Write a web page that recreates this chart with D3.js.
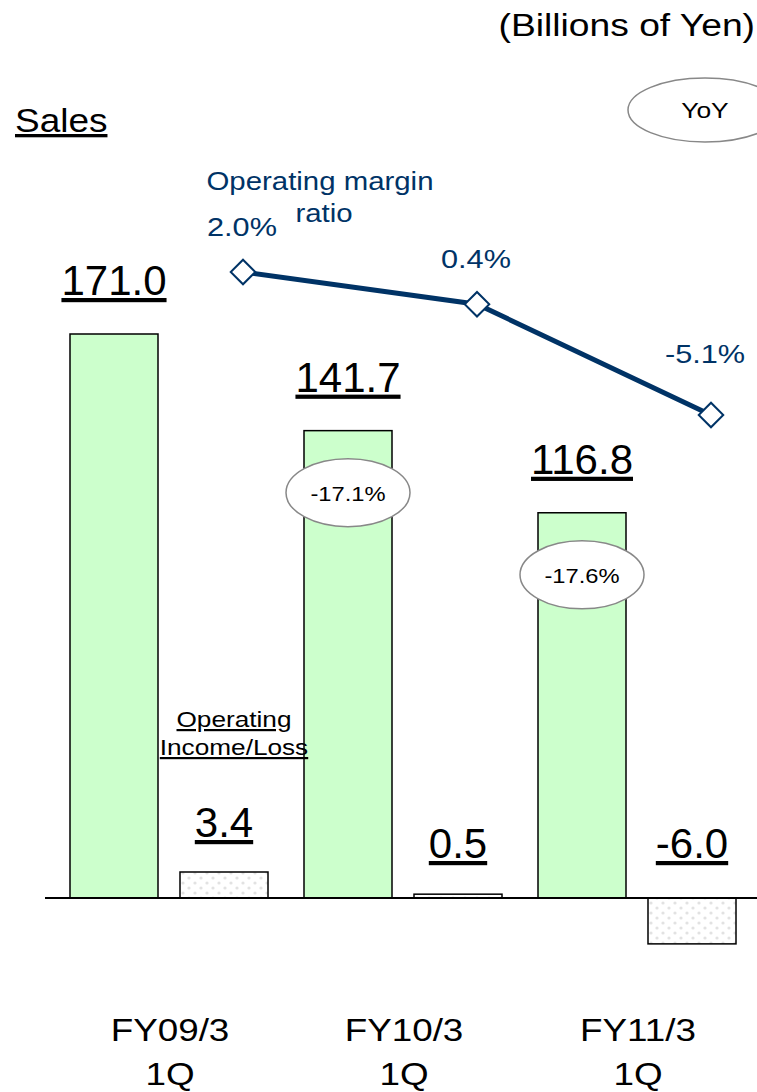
<!DOCTYPE html>
<html>
<head>
<meta charset="utf-8">
<script src="https://d3js.org/d3.v7.min.js"></script>
<style>
  body { margin: 0; background: #fff; }
  text { font-family: "Liberation Sans", Arial, sans-serif; }
</style>
</head>
<body>
<div id="chart"></div>
<script>
// data
const periods = ["FY09/3", "FY10/3", "FY11/3"];
const quarterLabel = "1Q";
const sales = [171.0, 141.7, 116.8];
const opIncome = [3.4, 0.5, -6.0];
const opMargin = [2.0, 0.4, -5.1];
const yoy = [null, "-17.1%", "-17.6%"];

const width = 757, height = 1092;
const baseY = 898;

const svg = d3.select("#chart").append("svg")
  .attr("width", width)
  .attr("height", height);

// the original text is a bit wider than Arial, so stretch it sideways
function stretch(sel, sx) {
  sel.each(function() {
    const len = this.getComputedTextLength();
    d3.select(this).attr("textLength", len * sx).attr("lengthAdjust", "spacingAndGlyphs");
  });
}

// dotted fill for the operating income bars
const defs = svg.append("defs");
const pat = defs.append("pattern")
  .attr("id", "dots")
  .attr("patternUnits", "userSpaceOnUse")
  .attr("width", 12).attr("height", 10);
pat.append("rect").attr("width", 12).attr("height", 10).attr("fill", "#fff");
pat.append("circle").attr("cx", 3).attr("cy", 3).attr("r", 1.6).attr("fill", "#e2e2e2");
pat.append("circle").attr("cx", 9).attr("cy", 8).attr("r", 1.6).attr("fill", "#e2e2e2");

// scales
const x = d3.scaleBand().domain(periods).range([53, 755]);
const sub = d3.scaleBand().domain(["sales", "oi"]).range([17, 215]).paddingInner(0.2);
const ySales = d3.scaleLinear().domain([0, 171]).range([baseY, 334]);
const yOI = d3.scaleLinear().domain([0, 3.4]).range([baseY, 872]);
const yMargin = d3.scaleLinear().domain([2.0, -5.1]).range([272, 415]);
const xMargin = i => x(periods[i]) + 190;

// sales bars
svg.selectAll(".sales").data(sales).enter().append("rect")
  .attr("class", "sales")
  .attr("x", (d, i) => x(periods[i]) + sub("sales"))
  .attr("width", sub.bandwidth())
  .attr("y", d => ySales(d))
  .attr("height", d => baseY - ySales(d))
  .attr("fill", "#ccffcc")
  .attr("stroke", "#000")
  .attr("stroke-width", 1.5);

// operating income bars
svg.selectAll(".oi").data(opIncome).enter().append("rect")
  .attr("class", "oi")
  .attr("x", (d, i) => x(periods[i]) + sub("oi"))
  .attr("width", sub.bandwidth())
  .attr("y", d => Math.min(yOI(d), baseY))
  .attr("height", d => Math.max(Math.abs(baseY - yOI(d)), 3))
  .attr("fill", "url(#dots)")
  .attr("stroke", "#000")
  .attr("stroke-width", 1.5);

// axis line
svg.append("line")
  .attr("x1", 45).attr("x2", width)
  .attr("y1", baseY).attr("y2", baseY)
  .attr("stroke", "#000").attr("stroke-width", 2);

// value labels
svg.selectAll(".salesLbl").data(sales).enter().append("text")
  .attr("x", (d, i) => x(periods[i]) + sub("sales") + sub.bandwidth() / 2)
  .attr("y", d => ySales(d) - 39)
  .attr("text-anchor", "middle")
  .attr("font-size", 42)
  .attr("text-decoration", "underline")
  .text(d => d.toFixed(1));

svg.selectAll(".oiLbl").data(opIncome).enter().append("text")
  .attr("x", (d, i) => x(periods[i]) + sub("oi") + sub.bandwidth() / 2)
  .attr("y", d => d >= 0 ? Math.min(yOI(d), baseY - 5) - 35 : baseY - 40)
  .attr("text-anchor", "middle")
  .attr("font-size", 42)
  .attr("text-decoration", "underline")
  .text(d => d.toFixed(1));

// operating margin line
const line = d3.line().x((d, i) => xMargin(i)).y(d => yMargin(d));
svg.append("path")
  .datum(opMargin)
  .attr("d", line)
  .attr("fill", "none")
  .attr("stroke", "#003366")
  .attr("stroke-width", 5);

svg.selectAll(".marker").data(opMargin).enter().append("path")
  .attr("d", d3.symbol().type(d3.symbolSquare).size(300))
  .attr("transform", (d, i) => `translate(${xMargin(i)},${yMargin(d)}) rotate(45)`)
  .attr("fill", "#fff")
  .attr("stroke", "#003366")
  .attr("stroke-width", 2);

svg.selectAll(".marginLbl").data(opMargin).enter().append("text")
  .attr("x", (d, i) => xMargin(i) - (i === opMargin.length - 1 ? 6 : 1))
  .attr("y", (d, i) => yMargin(d) - (i === opMargin.length - 1 ? 52 : 36))
  .attr("text-anchor", "middle")
  .attr("font-size", 26)
  .attr("fill", "#003366")
  .text(d => d.toFixed(1) + "%")
  .call(stretch, 1.18);

svg.append("text")
  .attr("x", 320).attr("y", 190)
  .attr("text-anchor", "middle")
  .attr("font-size", 26).attr("fill", "#003366")
  .text("Operating margin")
  .call(stretch, 1.13);
svg.append("text")
  .attr("x", 324).attr("y", 222)
  .attr("text-anchor", "middle")
  .attr("font-size", 26).attr("fill", "#003366")
  .text("ratio")
  .call(stretch, 1.13);

// YoY ellipses on the bars
const yoyData = yoy.map((v, i) => ({ v, i })).filter(d => d.v);
const yoyG = svg.selectAll(".yoy").data(yoyData).enter().append("g")
  .attr("transform", d => `translate(${x(periods[d.i]) + sub("sales") + sub.bandwidth() / 2},${ySales(sales[d.i]) + 62})`);
yoyG.append("ellipse")
  .attr("rx", 62).attr("ry", 34)
  .attr("fill", "#fff").attr("stroke", "#888").attr("stroke-width", 1.5);
yoyG.append("text")
  .attr("y", 8)
  .attr("text-anchor", "middle")
  .attr("font-size", 21)
  .text(d => d.v)
  .call(stretch, 1.13);

// YoY legend
svg.append("ellipse")
  .attr("cx", 705).attr("cy", 110).attr("rx", 77).attr("ry", 32)
  .attr("fill", "#fff").attr("stroke", "#888").attr("stroke-width", 1.5);
svg.append("text")
  .attr("x", 705).attr("y", 118)
  .attr("text-anchor", "middle").attr("font-size", 22)
  .text("YoY")
  .call(stretch, 1.2);

// titles
svg.append("text")
  .attr("x", 755).attr("y", 36)
  .attr("text-anchor", "end").attr("font-size", 31)
  .text("(Billions of Yen)")
  .call(stretch, 1.2);
svg.append("text")
  .attr("x", 15).attr("y", 132)
  .attr("font-size", 33)
  .attr("text-decoration", "underline")
  .text("Sales")
  .call(stretch, 1.12);

svg.append("text")
  .attr("x", 234).attr("y", 727)
  .attr("text-anchor", "middle").attr("font-size", 22)
  .attr("text-decoration", "underline")
  .text("Operating")
  .call(stretch, 1.19);
svg.append("text")
  .attr("x", 234).attr("y", 755)
  .attr("text-anchor", "middle").attr("font-size", 22)
  .attr("text-decoration", "underline")
  .text("Income/Loss")
  .call(stretch, 1.19);

// category labels
const cat = svg.selectAll(".cat").data(periods).enter().append("g");
cat.append("text")
  .attr("x", d => x(d) + 117)
  .attr("y", 1041)
  .attr("text-anchor", "middle").attr("font-size", 32)
  .text(d => d)
  .call(stretch, 1.15);
cat.append("text")
  .attr("x", d => x(d) + 117)
  .attr("y", 1085)
  .attr("text-anchor", "middle").attr("font-size", 32)
  .text(quarterLabel)
  .call(stretch, 1.15);
</script>
</body>
</html>
